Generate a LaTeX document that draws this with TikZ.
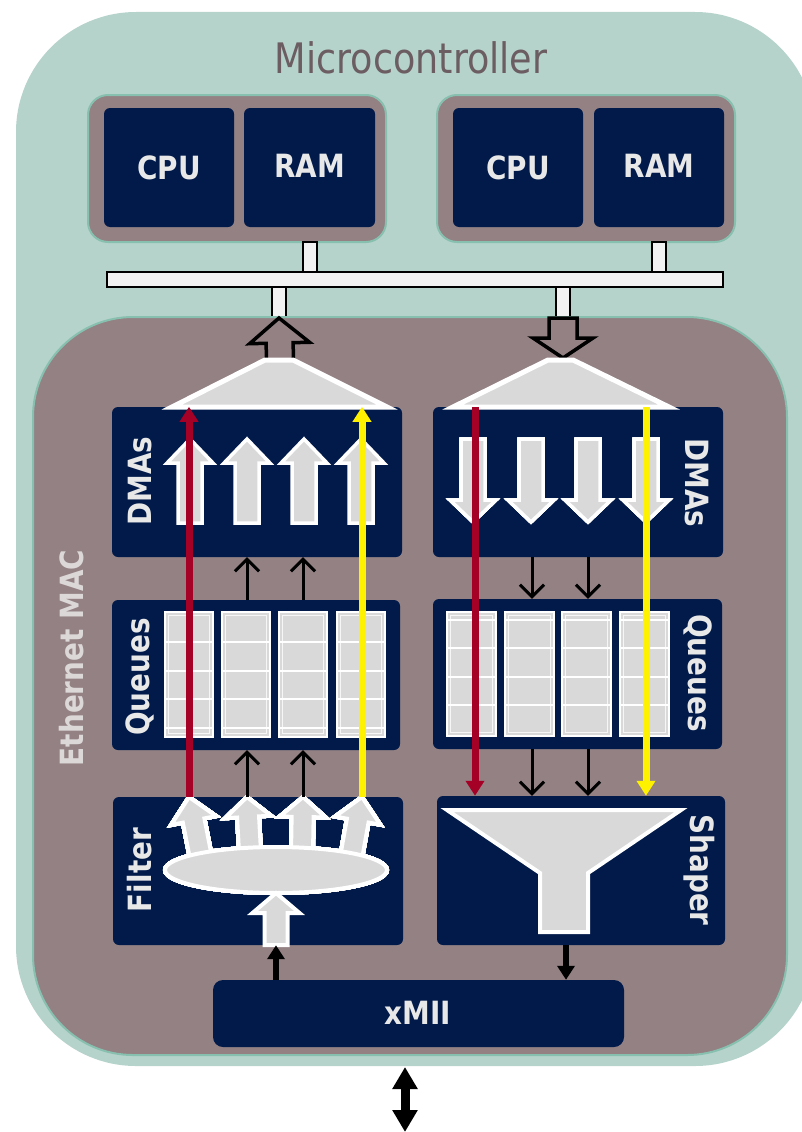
\documentclass[tikz,border=0pt]{standalone}
\usepackage{fontspec}
\setmainfont{DejaVu Sans}
\newfontfamily\lblfont[FakeStretch=0.87]{DejaVu Sans}
\usetikzlibrary{arrows.meta,calc}

\definecolor{mcuteal}{HTML}{B5D3CB}
\definecolor{tealedge}{HTML}{88C0AF}
\definecolor{macgray}{HTML}{938184}
\definecolor{navy}{HTML}{011A4A}
\definecolor{boxgray}{HTML}{D9D9D9}
\definecolor{lbltext}{HTML}{E8E8E8}
\definecolor{maclbl}{HTML}{DDD8D8}
\definecolor{titlegray}{HTML}{6B5D62}
\definecolor{crimson}{HTML}{A50026}
\definecolor{busfill}{HTML}{F2F2F2}

\tikzset{
  navybox/.style={fill=navy,rounded corners=6pt,inner sep=0pt},
  grpbox/.style={fill=macgray,draw=tealedge,line width=2pt,rounded corners=20pt,inner sep=0pt},
  stubbox/.style={fill=busfill,draw=black,line width=2pt,inner sep=0pt},
  blocklbl/.style={text=lbltext,inner sep=0pt,text height=23.4pt,text depth=0pt,
    font=\lblfont\bfseries\fontsize{32}{38}\selectfont},
  titletext/.style={text=titlegray,inner sep=0pt,text height=30.7pt,text depth=0pt,
    font=\lblfont\fontsize{42}{50}\selectfont},
  graypart/.style={fill=boxgray,draw=white,line width=4pt,line join=miter},
  thinarrow/.style={line width=3pt,-{Straight Barb[length=12pt,width=24pt]}},
  thickarrow/.style={line width=6pt,-{Triangle[length=14pt,width=17pt]}},
  flowline/.style={line width=7pt,-{Triangle[length=15pt,width=18pt]}},
}

% block arrow: [style]{tail}{tip}{head length}{shaft half}{head half}
\newcommand\blockarrow[6][]{%
  \coordinate (ba-h) at ($#3!#4!#2$);
  \draw[#1] ($#2!#5!90:#3$) -- ($(ba-h)!#5!90:#3$) -- ($(ba-h)!#6!90:#3$) -- #3
    -- ($(ba-h)!#6!-90:#3$) -- ($(ba-h)!#5!-90:#3$) -- ($#2!#5!-90:#3$) -- cycle;}

\begin{document}
\begin{tikzpicture}[x=1pt,y=-1pt]
  \useasboundingbox (0,0) rectangle (802,1132);
  \clip (0,0) rectangle (802,1132);
  % microcontroller
  \path[fill=mcuteal,rounded corners=120pt] (16,12) rectangle (815,1066);
  \node[titletext] (mcutitle) at (411,58) {Microcontroller};
  % cpu + ram groups
  \node[grpbox,minimum width=298pt,minimum height=147pt] (grp1) at (237,168.5) {};
  \node[grpbox,minimum width=298pt,minimum height=147pt] (grp2) at (586,168.5) {};
  \node[navybox,minimum width=130pt,minimum height=119pt] (cpu1) at (169,167.5) {};
  \node[navybox,minimum width=131pt,minimum height=119pt] (ram1) at (309.5,167.5) {};
  \node[navybox,minimum width=130pt,minimum height=119pt] (cpu2) at (518,167.5) {};
  \node[navybox,minimum width=130pt,minimum height=119pt] (ram2) at (659,167.5) {};
  \node[blocklbl] at (169,168) {CPU};
  \node[blocklbl] at (309.5,166) {RAM};
  \node[blocklbl] at (518,168) {CPU};
  \node[blocklbl] at (659,166) {RAM};
  % bus
  \node[stubbox,minimum width=14pt,minimum height=30pt] (st1) at (310,257) {};
  \node[stubbox,minimum width=14pt,minimum height=30pt] (st2) at (659,257) {};
  \node[stubbox,minimum width=14pt,minimum height=30pt] (st3) at (279,302) {};
  \node[stubbox,minimum width=14pt,minimum height=30pt] (st4) at (563,302) {};
  \node[stubbox,minimum width=616pt,minimum height=15pt] (bus) at (415,279.5) {};
  % ethernet mac
  \draw[fill=macgray,draw=tealedge,line width=2pt,rounded corners=100pt] (33,317) rectangle (787,1055);
  \node[blocklbl,text=maclbl,rotate=90] (maclbl) at (72,658) {Ethernet MAC};
  \blockarrow[draw=black,line width=3.5pt]{(280,360)}{(st3.south)}{25pt}{13.5pt}{30pt}
  \blockarrow[draw=black,line width=3.5pt]{(st4.south)}{(563,358)}{20pt}{14pt}{30pt}
  % blocks
  \node[navybox,minimum width=290pt,minimum height=150pt] (dmaL) at (257,482) {};
  \node[navybox,minimum width=290pt,minimum height=150pt] (dmaR) at (578,482) {};
  \node[navybox,minimum width=288pt,minimum height=150pt] (queL) at (256,675) {};
  \node[navybox,minimum width=289pt,minimum height=150pt] (queR) at (577.5,674) {};
  \node[navybox,minimum width=290pt,minimum height=148pt] (filt) at (258,871) {};
  \node[navybox,minimum width=288pt,minimum height=149pt] (shap) at (581,870.5) {};
  \node[navybox,rounded corners=10pt,minimum width=411pt,minimum height=67pt] (xmii) at (418.5,1013.5) {};
  % dma merge
  \draw[graypart,line width=5pt] (172,407) -- (265,360) -- (293,360) -- (387,407) -- cycle;
  \draw[graypart,line width=5pt] (453,407) -- (548,360) -- (573,360) -- (669,407) -- cycle;
  \foreach \x in {190,247,304,361}
    \blockarrow[graypart,line width=3.5pt]{(\x,523)}{(\x,439)}{24pt}{12pt}{23pt}
  \foreach \x in {473,531,588,646}
    \blockarrow[graypart,line width=3.5pt]{(\x,439)}{(\x,522)}{22pt}{12pt}{23pt}
  % queues
  \foreach \x in {165,222,279,337} {
    \draw[fill=boxgray,draw=white,line width=2.5pt] (\x,612) rectangle ++(48,125);
    \draw[white!75!boxgray,line width=1pt] (\x+3.5,615.5) rectangle ++(41,118);
    \foreach \y in {642,671,699,728}
      \draw[white,line width=1.5pt] (\x,\y) -- ++(48,0);
  }
  \foreach \x in {447,505,562,620} {
    \draw[fill=boxgray,draw=white,line width=2.5pt] (\x,612) rectangle ++(49,124);
    \draw[white!75!boxgray,line width=1pt] (\x+3.5,615.5) rectangle ++(42,117);
    \foreach \y in {620,648,677,705}
      \draw[white,line width=1.5pt] (\x,\y) -- ++(49,0);
  }
  % filter
  \blockarrow[graypart]{(201,858)}{(189,797)}{24pt}{11pt}{23pt}
  \blockarrow[graypart]{(250,852)}{(247,797)}{20pt}{11pt}{23pt}
  \blockarrow[graypart]{(302,852)}{(303,797)}{20pt}{11pt}{23pt}
  \blockarrow[graypart]{(351,858)}{(362,797)}{24pt}{11pt}{23pt}
  \draw[graypart] (276,870) ellipse (111pt and 23pt);
  \blockarrow[graypart]{(276,0 |- filt.south)}{(276,893)}{20pt}{11.5pt}{23.5pt}
  % shaper
  \draw[graypart] (447,810) -- (681,810) -- (588,873) -- (588,932) -- (540,932) -- (540,873) -- cycle;
  % connectors
  \foreach \x in {247,303} {
    \draw[thinarrow] (\x,0 |- queL.north) -- (\x,0 |- dmaL.south);
    \draw[thinarrow] (\x,0 |- filt.north) -- (\x,0 |- queL.south);
  }
  \foreach \x in {532,588} {
    \draw[thinarrow] (\x,0 |- dmaR.south) -- (\x,0 |- queR.north);
    \draw[thinarrow] (\x,0 |- queR.south) -- (\x,0 |- shap.north);
  }
  \draw[thickarrow] (276,0 |- xmii.north) -- (276,0 |- filt.south);
  \draw[thickarrow] (566,0 |- shap.south) -- (566,0 |- xmii.north);
  \coordinate (mcubot) at (405,1067);
  \coordinate (phy) at (405,1132);
  \draw[line width=9pt,{Triangle[length=22pt,width=24pt]}-{Triangle[length=22pt,width=24pt]}] (mcubot) -- (phy);
  % flows
  \draw[flowline,crimson] (189,0 |- filt.north) -- (189,0 |- dmaL.north);
  \draw[flowline,yellow] (362,0 |- filt.north) -- (362,0 |- dmaL.north);
  \draw[flowline,crimson] (475,0 |- dmaR.north) -- (475,0 |- shap.north);
  \draw[flowline,yellow] (646,0 |- dmaR.north) -- (646,0 |- shap.north);
  % labels
  \node[blocklbl,rotate=90] (dmaLlbl) at (140,481) {DMAs};
  \node[blocklbl,rotate=-90] (dmaRlbl) at (697,483) {DMAs};
  \node[blocklbl,rotate=90] (queLlbl) at (138,677) {Queues};
  \node[blocklbl,rotate=-90] (queRlbl) at (700,673) {Queues};
  \node[blocklbl,rotate=90] (filtlbl) at (140,870) {Filter};
  \node[blocklbl,rotate=-90] (shaplbl) at (702,870) {Shaper};
  \node[blocklbl] (xmiilbl) at (418,1013) {xMII};
\end{tikzpicture}
\end{document}
